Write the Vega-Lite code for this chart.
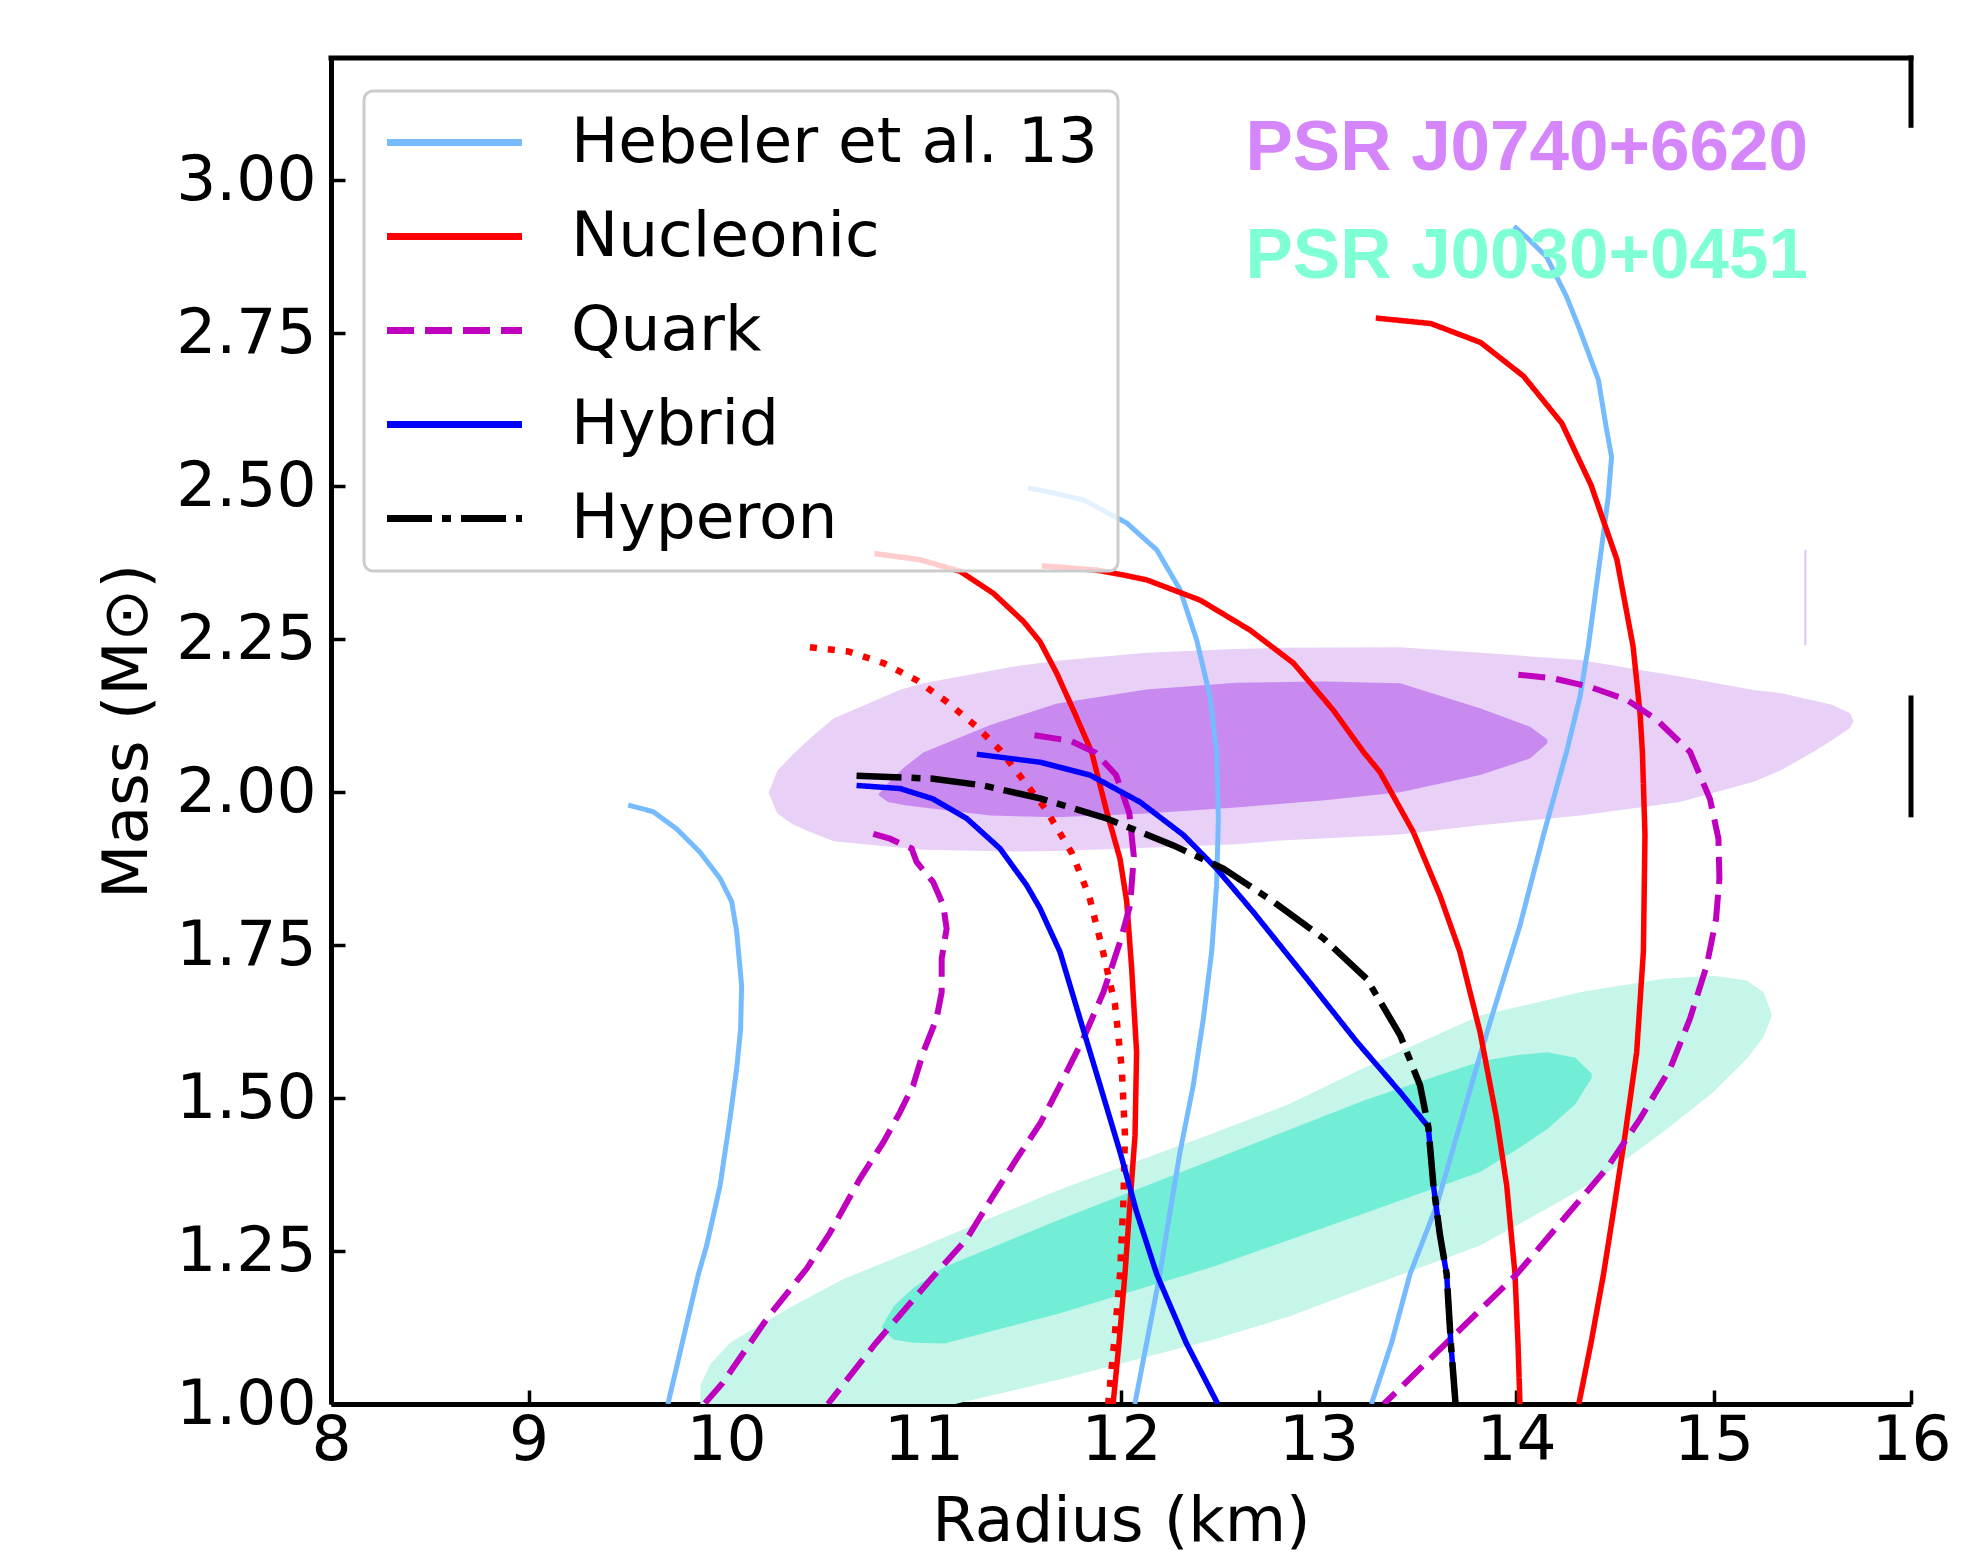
{
  "$schema": "https://vega.github.io/schema/vega-lite/v6.json",
  "width": 1580,
  "height": 1346,
  "autosize": {"type": "none"},
  "padding": {"left": 331, "top": 58, "right": 62, "bottom": 152},
  "background": "white",
  "config": {
    "view": {"stroke": null},
    "font": "DejaVu Sans",
    "axis": {
      "labelFont": "DejaVu Sans", "labelFontSize": 63, "labelColor": "black",
      "titleFont": "DejaVu Sans", "titleFontSize": 63, "titleFontWeight": "normal", "titleColor": "black",
      "domainColor": "black", "domainWidth": 5, "tickColor": "black", "tickWidth": 3.5, "tickSize": -14,
      "grid": false, "labelOverlap": false, "labelBound": false, "labelFlush": false
    },
    "legend": {
      "orient": "none", "legendX": 33, "legendY": 33,
      "fillColor": "rgba(255,255,255,0.8)", "strokeColor": "#cccccc", "strokeWidth": 3, "cornerRadius": 9,
      "padding": 20, "labelFontSize": 63, "labelFont": "DejaVu Sans", "labelColor": "black",
      "symbolType": "M-2.5,0H2.5", "symbolSize": 2916, "symbolStrokeWidth": 7,
      "symbolOffset": 39, "labelOffset": 85, "rowPadding": 30, "labelLimit": 1000, "zindex": 1
    }
  },
  "datasets": {
    "curves": [
      {"eos": "Hebeler et al. 13", "id": "H1", "r": 9.505, "m": 1.979},
      {"eos": "Hebeler et al. 13", "id": "H1", "r": 9.632, "m": 1.968},
      {"eos": "Hebeler et al. 13", "id": "H1", "r": 9.75, "m": 1.94},
      {"eos": "Hebeler et al. 13", "id": "H1", "r": 9.868, "m": 1.902},
      {"eos": "Hebeler et al. 13", "id": "H1", "r": 9.97, "m": 1.859},
      {"eos": "Hebeler et al. 13", "id": "H1", "r": 10.029, "m": 1.821},
      {"eos": "Hebeler et al. 13", "id": "H1", "r": 10.054, "m": 1.772},
      {"eos": "Hebeler et al. 13", "id": "H1", "r": 10.079, "m": 1.684},
      {"eos": "Hebeler et al. 13", "id": "H1", "r": 10.074, "m": 1.613},
      {"eos": "Hebeler et al. 13", "id": "H1", "r": 10.054, "m": 1.548},
      {"eos": "Hebeler et al. 13", "id": "H1", "r": 10.02, "m": 1.466},
      {"eos": "Hebeler et al. 13", "id": "H1", "r": 9.97, "m": 1.357},
      {"eos": "Hebeler et al. 13", "id": "H1", "r": 9.902, "m": 1.259},
      {"eos": "Hebeler et al. 13", "id": "H1", "r": 9.86, "m": 1.212},
      {"eos": "Hebeler et al. 13", "id": "H1", "r": 9.783, "m": 1.106},
      {"eos": "Hebeler et al. 13", "id": "H1", "r": 9.706, "m": 1.0},

      {"eos": "Hebeler et al. 13", "id": "H2", "r": 11.529, "m": 2.497},
      {"eos": "Hebeler et al. 13", "id": "H2", "r": 11.59, "m": 2.494},
      {"eos": "Hebeler et al. 13", "id": "H2", "r": 11.809, "m": 2.478},
      {"eos": "Hebeler et al. 13", "id": "H2", "r": 12.029, "m": 2.44},
      {"eos": "Hebeler et al. 13", "id": "H2", "r": 12.181, "m": 2.396},
      {"eos": "Hebeler et al. 13", "id": "H2", "r": 12.299, "m": 2.331},
      {"eos": "Hebeler et al. 13", "id": "H2", "r": 12.383, "m": 2.249},
      {"eos": "Hebeler et al. 13", "id": "H2", "r": 12.451, "m": 2.156},
      {"eos": "Hebeler et al. 13", "id": "H2", "r": 12.484, "m": 2.066},
      {"eos": "Hebeler et al. 13", "id": "H2", "r": 12.493, "m": 1.957},
      {"eos": "Hebeler et al. 13", "id": "H2", "r": 12.484, "m": 1.848},
      {"eos": "Hebeler et al. 13", "id": "H2", "r": 12.459, "m": 1.739},
      {"eos": "Hebeler et al. 13", "id": "H2", "r": 12.417, "m": 1.63},
      {"eos": "Hebeler et al. 13", "id": "H2", "r": 12.366, "m": 1.521},
      {"eos": "Hebeler et al. 13", "id": "H2", "r": 12.299, "m": 1.412},
      {"eos": "Hebeler et al. 13", "id": "H2", "r": 12.248, "m": 1.314},
      {"eos": "Hebeler et al. 13", "id": "H2", "r": 12.197, "m": 1.212},
      {"eos": "Hebeler et al. 13", "id": "H2", "r": 12.13, "m": 1.1},
      {"eos": "Hebeler et al. 13", "id": "H2", "r": 12.07, "m": 1.0},

      {"eos": "Hebeler et al. 13", "id": "H3", "r": 13.99, "m": 2.925},
      {"eos": "Hebeler et al. 13", "id": "H3", "r": 14.06, "m": 2.905},
      {"eos": "Hebeler et al. 13", "id": "H3", "r": 14.155, "m": 2.875},
      {"eos": "Hebeler et al. 13", "id": "H3", "r": 14.256, "m": 2.81},
      {"eos": "Hebeler et al. 13", "id": "H3", "r": 14.324, "m": 2.755},
      {"eos": "Hebeler et al. 13", "id": "H3", "r": 14.417, "m": 2.674},
      {"eos": "Hebeler et al. 13", "id": "H3", "r": 14.459, "m": 2.592},
      {"eos": "Hebeler et al. 13", "id": "H3", "r": 14.484, "m": 2.548},
      {"eos": "Hebeler et al. 13", "id": "H3", "r": 14.467, "m": 2.483},
      {"eos": "Hebeler et al. 13", "id": "H3", "r": 14.434, "m": 2.401},
      {"eos": "Hebeler et al. 13", "id": "H3", "r": 14.4, "m": 2.32},
      {"eos": "Hebeler et al. 13", "id": "H3", "r": 14.366, "m": 2.238},
      {"eos": "Hebeler et al. 13", "id": "H3", "r": 14.324, "m": 2.156},
      {"eos": "Hebeler et al. 13", "id": "H3", "r": 14.256, "m": 2.066},
      {"eos": "Hebeler et al. 13", "id": "H3", "r": 14.139, "m": 1.93},
      {"eos": "Hebeler et al. 13", "id": "H3", "r": 14.02, "m": 1.782},
      {"eos": "Hebeler et al. 13", "id": "H3", "r": 13.885, "m": 1.641},
      {"eos": "Hebeler et al. 13", "id": "H3", "r": 13.818, "m": 1.57},
      {"eos": "Hebeler et al. 13", "id": "H3", "r": 13.599, "m": 1.325},
      {"eos": "Hebeler et al. 13", "id": "H3", "r": 13.463, "m": 1.212},
      {"eos": "Hebeler et al. 13", "id": "H3", "r": 13.37, "m": 1.1},
      {"eos": "Hebeler et al. 13", "id": "H3", "r": 13.268, "m": 1.0},

      {"eos": "Nucleonic", "id": "N1", "r": 10.752, "m": 2.39},
      {"eos": "Nucleonic", "id": "N1", "r": 10.982, "m": 2.38},
      {"eos": "Nucleonic", "id": "N1", "r": 11.185, "m": 2.361},
      {"eos": "Nucleonic", "id": "N1", "r": 11.354, "m": 2.325},
      {"eos": "Nucleonic", "id": "N1", "r": 11.506, "m": 2.279},
      {"eos": "Nucleonic", "id": "N1", "r": 11.59, "m": 2.246},
      {"eos": "Nucleonic", "id": "N1", "r": 11.675, "m": 2.194},
      {"eos": "Nucleonic", "id": "N1", "r": 11.759, "m": 2.134},
      {"eos": "Nucleonic", "id": "N1", "r": 11.851, "m": 2.066},
      {"eos": "Nucleonic", "id": "N1", "r": 11.928, "m": 1.968},
      {"eos": "Nucleonic", "id": "N1", "r": 11.995, "m": 1.891},
      {"eos": "Nucleonic", "id": "N1", "r": 12.029, "m": 1.821},
      {"eos": "Nucleonic", "id": "N1", "r": 12.054, "m": 1.712},
      {"eos": "Nucleonic", "id": "N1", "r": 12.079, "m": 1.575},
      {"eos": "Nucleonic", "id": "N1", "r": 12.071, "m": 1.439},
      {"eos": "Nucleonic", "id": "N1", "r": 12.046, "m": 1.33},
      {"eos": "Nucleonic", "id": "N1", "r": 12.02, "m": 1.212},
      {"eos": "Nucleonic", "id": "N1", "r": 11.99, "m": 1.1},
      {"eos": "Nucleonic", "id": "N1", "r": 11.96, "m": 1.0},

      {"eos": "Nucleonic", "id": "N2", "r": 11.599, "m": 2.37},
      {"eos": "Nucleonic", "id": "N2", "r": 11.877, "m": 2.363},
      {"eos": "Nucleonic", "id": "N2", "r": 12.012, "m": 2.355},
      {"eos": "Nucleonic", "id": "N2", "r": 12.13, "m": 2.347},
      {"eos": "Nucleonic", "id": "N2", "r": 12.4, "m": 2.314},
      {"eos": "Nucleonic", "id": "N2", "r": 12.653, "m": 2.265},
      {"eos": "Nucleonic", "id": "N2", "r": 12.873, "m": 2.211},
      {"eos": "Nucleonic", "id": "N2", "r": 13.075, "m": 2.134},
      {"eos": "Nucleonic", "id": "N2", "r": 13.227, "m": 2.066},
      {"eos": "Nucleonic", "id": "N2", "r": 13.311, "m": 2.033},
      {"eos": "Nucleonic", "id": "N2", "r": 13.48, "m": 1.935},
      {"eos": "Nucleonic", "id": "N2", "r": 13.615, "m": 1.831},
      {"eos": "Nucleonic", "id": "N2", "r": 13.716, "m": 1.739},
      {"eos": "Nucleonic", "id": "N2", "r": 13.818, "m": 1.608},
      {"eos": "Nucleonic", "id": "N2", "r": 13.902, "m": 1.466},
      {"eos": "Nucleonic", "id": "N2", "r": 13.953, "m": 1.357},
      {"eos": "Nucleonic", "id": "N2", "r": 13.995, "m": 1.212},
      {"eos": "Nucleonic", "id": "N2", "r": 14.01, "m": 1.1},
      {"eos": "Nucleonic", "id": "N2", "r": 14.02, "m": 1.0},

      {"eos": "Nucleonic", "id": "N3", "r": 13.29, "m": 2.775},
      {"eos": "Nucleonic", "id": "N3", "r": 13.569, "m": 2.766},
      {"eos": "Nucleonic", "id": "N3", "r": 13.821, "m": 2.735},
      {"eos": "Nucleonic", "id": "N3", "r": 14.038, "m": 2.68},
      {"eos": "Nucleonic", "id": "N3", "r": 14.232, "m": 2.603},
      {"eos": "Nucleonic", "id": "N3", "r": 14.38, "m": 2.502},
      {"eos": "Nucleonic", "id": "N3", "r": 14.511, "m": 2.38},
      {"eos": "Nucleonic", "id": "N3", "r": 14.593, "m": 2.238},
      {"eos": "Nucleonic", "id": "N3", "r": 14.628, "m": 2.129},
      {"eos": "Nucleonic", "id": "N3", "r": 14.64, "m": 2.066},
      {"eos": "Nucleonic", "id": "N3", "r": 14.653, "m": 1.93},
      {"eos": "Nucleonic", "id": "N3", "r": 14.645, "m": 1.739},
      {"eos": "Nucleonic", "id": "N3", "r": 14.611, "m": 1.575},
      {"eos": "Nucleonic", "id": "N3", "r": 14.552, "m": 1.439},
      {"eos": "Nucleonic", "id": "N3", "r": 14.493, "m": 1.314},
      {"eos": "Nucleonic", "id": "N3", "r": 14.443, "m": 1.212},
      {"eos": "Nucleonic", "id": "N3", "r": 14.38, "m": 1.1},
      {"eos": "Nucleonic", "id": "N3", "r": 14.318, "m": 1.0},

      {"eos": "Quark", "id": "Q1", "r": 10.746, "m": 1.932},
      {"eos": "Quark", "id": "Q1", "r": 10.83, "m": 1.924},
      {"eos": "Quark", "id": "Q1", "r": 10.94, "m": 1.908},
      {"eos": "Quark", "id": "Q1", "r": 10.965, "m": 1.886},
      {"eos": "Quark", "id": "Q1", "r": 11.049, "m": 1.853},
      {"eos": "Quark", "id": "Q1", "r": 11.1, "m": 1.815},
      {"eos": "Quark", "id": "Q1", "r": 11.117, "m": 1.777},
      {"eos": "Quark", "id": "Q1", "r": 11.092, "m": 1.728},
      {"eos": "Quark", "id": "Q1", "r": 11.092, "m": 1.673},
      {"eos": "Quark", "id": "Q1", "r": 11.066, "m": 1.63},
      {"eos": "Quark", "id": "Q1", "r": 10.999, "m": 1.575},
      {"eos": "Quark", "id": "Q1", "r": 10.948, "m": 1.521},
      {"eos": "Quark", "id": "Q1", "r": 10.881, "m": 1.477},
      {"eos": "Quark", "id": "Q1", "r": 10.797, "m": 1.428},
      {"eos": "Quark", "id": "Q1", "r": 10.678, "m": 1.368},
      {"eos": "Quark", "id": "Q1", "r": 10.525, "m": 1.279},
      {"eos": "Quark", "id": "Q1", "r": 10.408, "m": 1.221},
      {"eos": "Quark", "id": "Q1", "r": 10.215, "m": 1.143},
      {"eos": "Quark", "id": "Q1", "r": 9.982, "m": 1.034},
      {"eos": "Quark", "id": "Q1", "r": 9.89, "m": 1.0},

      {"eos": "Quark", "id": "Q2", "r": 11.562, "m": 2.093},
      {"eos": "Quark", "id": "Q2", "r": 11.744, "m": 2.084},
      {"eos": "Quark", "id": "Q2", "r": 11.869, "m": 2.065},
      {"eos": "Quark", "id": "Q2", "r": 11.975, "m": 2.028},
      {"eos": "Quark", "id": "Q2", "r": 12.042, "m": 1.966},
      {"eos": "Quark", "id": "Q2", "r": 12.065, "m": 1.895},
      {"eos": "Quark", "id": "Q2", "r": 12.046, "m": 1.815},
      {"eos": "Quark", "id": "Q2", "r": 11.995, "m": 1.755},
      {"eos": "Quark", "id": "Q2", "r": 11.911, "m": 1.673},
      {"eos": "Quark", "id": "Q2", "r": 11.809, "m": 1.597},
      {"eos": "Quark", "id": "Q2", "r": 11.691, "m": 1.521},
      {"eos": "Quark", "id": "Q2", "r": 11.59, "m": 1.458},
      {"eos": "Quark", "id": "Q2", "r": 11.472, "m": 1.401},
      {"eos": "Quark", "id": "Q2", "r": 11.354, "m": 1.341},
      {"eos": "Quark", "id": "Q2", "r": 11.219, "m": 1.27},
      {"eos": "Quark", "id": "Q2", "r": 11.04, "m": 1.205},
      {"eos": "Quark", "id": "Q2", "r": 10.757, "m": 1.099},
      {"eos": "Quark", "id": "Q2", "r": 10.516, "m": 1.0},

      {"eos": "Quark", "id": "Q3", "r": 14.012, "m": 2.192},
      {"eos": "Quark", "id": "Q3", "r": 14.19, "m": 2.186},
      {"eos": "Quark", "id": "Q3", "r": 14.375, "m": 2.172},
      {"eos": "Quark", "id": "Q3", "r": 14.561, "m": 2.151},
      {"eos": "Quark", "id": "Q3", "r": 14.713, "m": 2.118},
      {"eos": "Quark", "id": "Q3", "r": 14.881, "m": 2.066},
      {"eos": "Quark", "id": "Q3", "r": 14.982, "m": 1.989},
      {"eos": "Quark", "id": "Q3", "r": 15.025, "m": 1.924},
      {"eos": "Quark", "id": "Q3", "r": 15.03, "m": 1.859},
      {"eos": "Quark", "id": "Q3", "r": 15.013, "m": 1.793},
      {"eos": "Quark", "id": "Q3", "r": 14.966, "m": 1.717},
      {"eos": "Quark", "id": "Q3", "r": 14.881, "m": 1.63},
      {"eos": "Quark", "id": "Q3", "r": 14.78, "m": 1.548},
      {"eos": "Quark", "id": "Q3", "r": 14.628, "m": 1.466},
      {"eos": "Quark", "id": "Q3", "r": 14.459, "m": 1.385},
      {"eos": "Quark", "id": "Q3", "r": 14.256, "m": 1.308},
      {"eos": "Quark", "id": "Q3", "r": 14.003, "m": 1.212},
      {"eos": "Quark", "id": "Q3", "r": 13.667, "m": 1.106},
      {"eos": "Quark", "id": "Q3", "r": 13.331, "m": 1.0},

      {"eos": "Hybrid", "id": "B1", "r": 10.661, "m": 2.011},
      {"eos": "Hybrid", "id": "B1", "r": 10.881, "m": 2.006},
      {"eos": "Hybrid", "id": "B1", "r": 11.049, "m": 1.989},
      {"eos": "Hybrid", "id": "B1", "r": 11.219, "m": 1.957},
      {"eos": "Hybrid", "id": "B1", "r": 11.387, "m": 1.908},
      {"eos": "Hybrid", "id": "B1", "r": 11.522, "m": 1.848},
      {"eos": "Hybrid", "id": "B1", "r": 11.59, "m": 1.81},
      {"eos": "Hybrid", "id": "B1", "r": 11.691, "m": 1.739},
      {"eos": "Hybrid", "id": "B1", "r": 11.792, "m": 1.63},
      {"eos": "Hybrid", "id": "B1", "r": 11.894, "m": 1.521},
      {"eos": "Hybrid", "id": "B1", "r": 11.995, "m": 1.412},
      {"eos": "Hybrid", "id": "B1", "r": 12.079, "m": 1.314},
      {"eos": "Hybrid", "id": "B1", "r": 12.181, "m": 1.212},
      {"eos": "Hybrid", "id": "B1", "r": 12.33, "m": 1.1},
      {"eos": "Hybrid", "id": "B1", "r": 12.49, "m": 1.0},

      {"eos": "Hybrid", "id": "B2", "r": 11.27, "m": 2.062},
      {"eos": "Hybrid", "id": "B2", "r": 11.59, "m": 2.049},
      {"eos": "Hybrid", "id": "B2", "r": 11.843, "m": 2.028},
      {"eos": "Hybrid", "id": "B2", "r": 12.096, "m": 1.984},
      {"eos": "Hybrid", "id": "B2", "r": 12.316, "m": 1.93},
      {"eos": "Hybrid", "id": "B2", "r": 12.484, "m": 1.875},
      {"eos": "Hybrid", "id": "B2", "r": 12.67, "m": 1.804},
      {"eos": "Hybrid", "id": "B2", "r": 12.941, "m": 1.695},
      {"eos": "Hybrid", "id": "B2", "r": 13.194, "m": 1.592},
      {"eos": "Hybrid", "id": "B2", "r": 13.413, "m": 1.51},
      {"eos": "Hybrid", "id": "B2", "r": 13.556, "m": 1.453},
      {"eos": "Hybrid", "id": "B2", "r": 13.582, "m": 1.357},
      {"eos": "Hybrid", "id": "B2", "r": 13.615, "m": 1.276},
      {"eos": "Hybrid", "id": "B2", "r": 13.649, "m": 1.212},
      {"eos": "Hybrid", "id": "B2", "r": 13.67, "m": 1.1},
      {"eos": "Hybrid", "id": "B2", "r": 13.694, "m": 1.0},

      {"eos": "Hyperon", "id": "Y1", "r": 10.661, "m": 2.027},
      {"eos": "Hyperon", "id": "Y1", "r": 11.049, "m": 2.022},
      {"eos": "Hyperon", "id": "Y1", "r": 11.302, "m": 2.011},
      {"eos": "Hyperon", "id": "Y1", "r": 11.59, "m": 1.99},
      {"eos": "Hyperon", "id": "Y1", "r": 11.928, "m": 1.957},
      {"eos": "Hyperon", "id": "Y1", "r": 12.265, "m": 1.913},
      {"eos": "Hyperon", "id": "Y1", "r": 12.518, "m": 1.875},
      {"eos": "Hyperon", "id": "Y1", "r": 12.772, "m": 1.821},
      {"eos": "Hyperon", "id": "Y1", "r": 13.025, "m": 1.761},
      {"eos": "Hyperon", "id": "Y1", "r": 13.244, "m": 1.695},
      {"eos": "Hyperon", "id": "Y1", "r": 13.413, "m": 1.603},
      {"eos": "Hyperon", "id": "Y1", "r": 13.514, "m": 1.521},
      {"eos": "Hyperon", "id": "Y1", "r": 13.556, "m": 1.453},
      {"eos": "Hyperon", "id": "Y1", "r": 13.582, "m": 1.357},
      {"eos": "Hyperon", "id": "Y1", "r": 13.615, "m": 1.276},
      {"eos": "Hyperon", "id": "Y1", "r": 13.649, "m": 1.212},
      {"eos": "Hyperon", "id": "Y1", "r": 13.67, "m": 1.1},
      {"eos": "Hyperon", "id": "Y1", "r": 13.694, "m": 1.0}
    ],
    "dotted": [
      {"r": 10.425, "m": 2.237}, {"r": 10.619, "m": 2.23}, {"r": 10.797, "m": 2.211}, {"r": 10.965, "m": 2.183},
      {"r": 11.117, "m": 2.148}, {"r": 11.269, "m": 2.107}, {"r": 11.387, "m": 2.069}, {"r": 11.49, "m": 2.026},
      {"r": 11.619, "m": 1.972}, {"r": 11.752, "m": 1.9}, {"r": 11.839, "m": 1.83}, {"r": 11.907, "m": 1.742},
      {"r": 11.97, "m": 1.652}, {"r": 12.004, "m": 1.548}, {"r": 12.02, "m": 1.439}, {"r": 12.012, "m": 1.33},
      {"r": 11.995, "m": 1.212}, {"r": 11.965, "m": 1.1}, {"r": 11.935, "m": 1.0}
    ],
    "j0740_outer": [
      {"r": 10.217, "lo": 1.998, "hi": 2.0},
      {"r": 10.26, "lo": 1.965, "hi": 2.035},
      {"r": 10.34, "lo": 1.947, "hi": 2.062},
      {"r": 10.433, "lo": 1.934, "hi": 2.09},
      {"r": 10.546, "lo": 1.92, "hi": 2.121},
      {"r": 10.886, "lo": 1.909, "hi": 2.168},
      {"r": 10.999, "lo": 1.906, "hi": 2.178},
      {"r": 11.451, "lo": 1.903, "hi": 2.205},
      {"r": 11.677, "lo": 1.904, "hi": 2.215},
      {"r": 12.129, "lo": 1.909, "hi": 2.228},
      {"r": 12.581, "lo": 1.915, "hi": 2.234},
      {"r": 12.807, "lo": 1.921, "hi": 2.236},
      {"r": 13.413, "lo": 1.931, "hi": 2.237},
      {"r": 13.818, "lo": 1.946, "hi": 2.228},
      {"r": 14.324, "lo": 1.962, "hi": 2.216},
      {"r": 14.83, "lo": 1.984, "hi": 2.189},
      {"r": 15.203, "lo": 2.017, "hi": 2.167},
      {"r": 15.337, "lo": 2.035, "hi": 2.162},
      {"r": 15.506, "lo": 2.066, "hi": 2.15},
      {"r": 15.6, "lo": 2.085, "hi": 2.143},
      {"r": 15.691, "lo": 2.105, "hi": 2.129},
      {"r": 15.708, "lo": 2.115, "hi": 2.117}
    ],
    "j0740_inner": [
      {"r": 10.773, "lo": 1.995, "hi": 1.997},
      {"r": 10.82, "lo": 1.984, "hi": 2.015},
      {"r": 10.9, "lo": 1.979, "hi": 2.04},
      {"r": 10.999, "lo": 1.975, "hi": 2.065},
      {"r": 11.338, "lo": 1.962, "hi": 2.11},
      {"r": 11.677, "lo": 1.959, "hi": 2.145},
      {"r": 12.129, "lo": 1.965, "hi": 2.168},
      {"r": 12.581, "lo": 1.975, "hi": 2.179},
      {"r": 13.033, "lo": 1.987, "hi": 2.181},
      {"r": 13.413, "lo": 2.0, "hi": 2.178},
      {"r": 13.818, "lo": 2.028, "hi": 2.137},
      {"r": 14.071, "lo": 2.055, "hi": 2.107},
      {"r": 14.159, "lo": 2.08, "hi": 2.086}
    ],
    "j0030_outer": [
      {"r": 9.87, "lo": 0.95, "hi": 1.03},
      {"r": 9.92, "lo": 0.92, "hi": 1.065},
      {"r": 10.02, "lo": 0.9, "hi": 1.1},
      {"r": 10.331, "lo": 0.9, "hi": 1.159},
      {"r": 10.6, "lo": 0.92, "hi": 1.205},
      {"r": 10.913, "lo": 0.95, "hi": 1.246},
      {"r": 11.16, "lo": 1.0, "hi": 1.28},
      {"r": 11.688, "lo": 1.04, "hi": 1.35},
      {"r": 12.464, "lo": 1.105, "hi": 1.442},
      {"r": 12.85, "lo": 1.143, "hi": 1.49},
      {"r": 13.239, "lo": 1.19, "hi": 1.551},
      {"r": 13.818, "lo": 1.259, "hi": 1.635},
      {"r": 14.155, "lo": 1.319, "hi": 1.66},
      {"r": 14.324, "lo": 1.35, "hi": 1.673},
      {"r": 14.493, "lo": 1.385, "hi": 1.682},
      {"r": 14.746, "lo": 1.445, "hi": 1.695},
      {"r": 15.0, "lo": 1.51, "hi": 1.7},
      {"r": 15.168, "lo": 1.564, "hi": 1.692},
      {"r": 15.253, "lo": 1.6, "hi": 1.673},
      {"r": 15.295, "lo": 1.634, "hi": 1.637}
    ],
    "j0030_inner": [
      {"r": 10.79, "lo": 1.123, "hi": 1.127},
      {"r": 10.85, "lo": 1.105, "hi": 1.16},
      {"r": 10.95, "lo": 1.1, "hi": 1.19},
      {"r": 11.106, "lo": 1.099, "hi": 1.224},
      {"r": 11.687, "lo": 1.148, "hi": 1.301},
      {"r": 12.462, "lo": 1.224, "hi": 1.399},
      {"r": 13.237, "lo": 1.312, "hi": 1.497},
      {"r": 13.818, "lo": 1.379, "hi": 1.56},
      {"r": 14.0, "lo": 1.415, "hi": 1.57},
      {"r": 14.16, "lo": 1.45, "hi": 1.575},
      {"r": 14.3, "lo": 1.49, "hi": 1.566},
      {"r": 14.383, "lo": 1.533, "hi": 1.54}
    ]
  },
  "encoding": {
    "x": {"field": "r", "type": "quantitative",
      "scale": {"domain": [8, 16], "nice": false, "zero": false},
      "axis": {"title": "Radius (km)", "values": [8, 9, 10, 11, 12, 13, 14, 15, 16], "format": "d", "labelPadding": 19, "titlePadding": 18}},
    "y": {"field": "m", "type": "quantitative",
      "scale": {"domain": [1, 3.2], "nice": false, "zero": false},
      "axis": {"title": "Mass (M⊙)", "values": [1, 1.25, 1.5, 1.75, 2, 2.25, 2.5, 2.75, 3], "format": ".2f", "labelPadding": 29, "titlePadding": 16}}
  },
  "layer": [
    {"data": {"name": "j0740_outer"}, "mark": {"type": "area", "color": "#e8d0f7", "opacity": 1, "clip": true},
     "encoding": {"y": {"field": "lo", "type": "quantitative"}, "y2": {"field": "hi"}}},
    {"data": {"name": "j0740_inner"}, "mark": {"type": "area", "color": "#c98af0", "opacity": 1, "clip": true},
     "encoding": {"y": {"field": "lo", "type": "quantitative"}, "y2": {"field": "hi"}}},
    {"data": {"name": "j0030_outer"}, "mark": {"type": "area", "color": "#c6f5e9", "opacity": 1, "clip": true},
     "encoding": {"y": {"field": "lo", "type": "quantitative"}, "y2": {"field": "hi"}}},
    {"data": {"name": "j0030_inner"}, "mark": {"type": "area", "color": "#72eed6", "opacity": 1, "clip": true},
     "encoding": {"y": {"field": "lo", "type": "quantitative"}, "y2": {"field": "hi"}}},
    {"data": {"name": "dotted"}, "mark": {"type": "line", "color": "#ff0000", "strokeWidth": 6.5, "strokeDash": [7, 11], "clip": true},
     "encoding": {"order": {"value": null}}},
    {"data": {"name": "curves"}, "transform": [{"filter": "datum.eos == 'Hebeler et al. 13'"}],
     "mark": {"type": "line", "strokeWidth": 5, "clip": true},
     "encoding": {
       "detail": {"field": "id"}, "order": {"value": null},
       "color": {"field": "eos", "type": "nominal", "title": null,
         "scale": {"domain": ["Hebeler et al. 13", "Nucleonic", "Quark", "Hybrid", "Hyperon"], "range": ["#75bbfd", "#ff0000", "#bf00bf", "#0000ff", "#000000"]}},
       "strokeDash": {"field": "eos", "type": "nominal", "title": null,
         "scale": {"domain": ["Hebeler et al. 13", "Nucleonic", "Quark", "Hybrid", "Hyperon"], "range": [[1, 0], [1, 0], [27, 11], [1, 0], [45, 10, 9, 10]]}}
     }},
    {"data": {"name": "curves"}, "transform": [{"filter": "datum.eos == 'Nucleonic'"}],
     "mark": {"type": "line", "strokeWidth": 5.5, "clip": true},
     "encoding": {
       "detail": {"field": "id"}, "order": {"value": null},
       "color": {"field": "eos", "type": "nominal", "title": null},
       "strokeDash": {"field": "eos", "type": "nominal", "title": null}
     }},
    {"data": {"name": "curves"}, "transform": [{"filter": "datum.eos == 'Quark'"}],
     "mark": {"type": "line", "strokeWidth": 6, "clip": true},
     "encoding": {
       "detail": {"field": "id"}, "order": {"value": null},
       "color": {"field": "eos", "type": "nominal", "title": null},
       "strokeDash": {"field": "eos", "type": "nominal", "title": null}
     }},
    {"data": {"name": "curves"}, "transform": [{"filter": "datum.eos == 'Hybrid'"}],
     "mark": {"type": "line", "strokeWidth": 5.5, "clip": true},
     "encoding": {
       "detail": {"field": "id"}, "order": {"value": null},
       "color": {"field": "eos", "type": "nominal", "title": null},
       "strokeDash": {"field": "eos", "type": "nominal", "title": null}
     }},
    {"data": {"name": "curves"}, "transform": [{"filter": "datum.eos == 'Hyperon'"}],
     "mark": {"type": "line", "strokeWidth": 6.5, "clip": true},
     "encoding": {
       "detail": {"field": "id"}, "order": {"value": null},
       "color": {"field": "eos", "type": "nominal", "title": null},
       "strokeDash": {"field": "eos", "type": "nominal", "title": null}
     }},
    {"data": {"values": [{"r": 12.63, "m": 3.017, "label": "PSR J0740+6620"}]},
     "mark": {"type": "text", "font": "Liberation Sans", "fontWeight": "bold", "fontSize": 71, "align": "left", "baseline": "alphabetic", "color": "#d686fb"},
     "encoding": {"text": {"field": "label"}}},
    {"data": {"values": [{"r": 12.63, "m": 2.84, "label": "PSR J0030+0451"}]},
     "mark": {"type": "text", "font": "Liberation Sans", "fontWeight": "bold", "fontSize": 71, "align": "left", "baseline": "alphabetic", "color": "#7fffd4"},
     "encoding": {"text": {"field": "label"}}},
    {"data": {"values": [{"r": 15.465, "m": 2.24, "m2": 2.396}]},
     "mark": {"type": "rule", "color": "#dcc4f5", "strokeWidth": 2},
     "encoding": {"y2": {"field": "m2"}}},
    {"data": {"values": [
       {"r": 8, "r2": 16, "m": 3.2, "m2": 3.2},
       {"r": 16, "r2": 16, "m": 3.09, "m2": 3.2},
       {"r": 16, "r2": 16, "m": 1.963, "m2": 2.154}]},
     "mark": {"type": "rule", "color": "black", "strokeWidth": 5, "clip": false, "strokeCap": "square"},
     "encoding": {"x2": {"field": "r2"}, "y2": {"field": "m2"}}}
  ]
}
